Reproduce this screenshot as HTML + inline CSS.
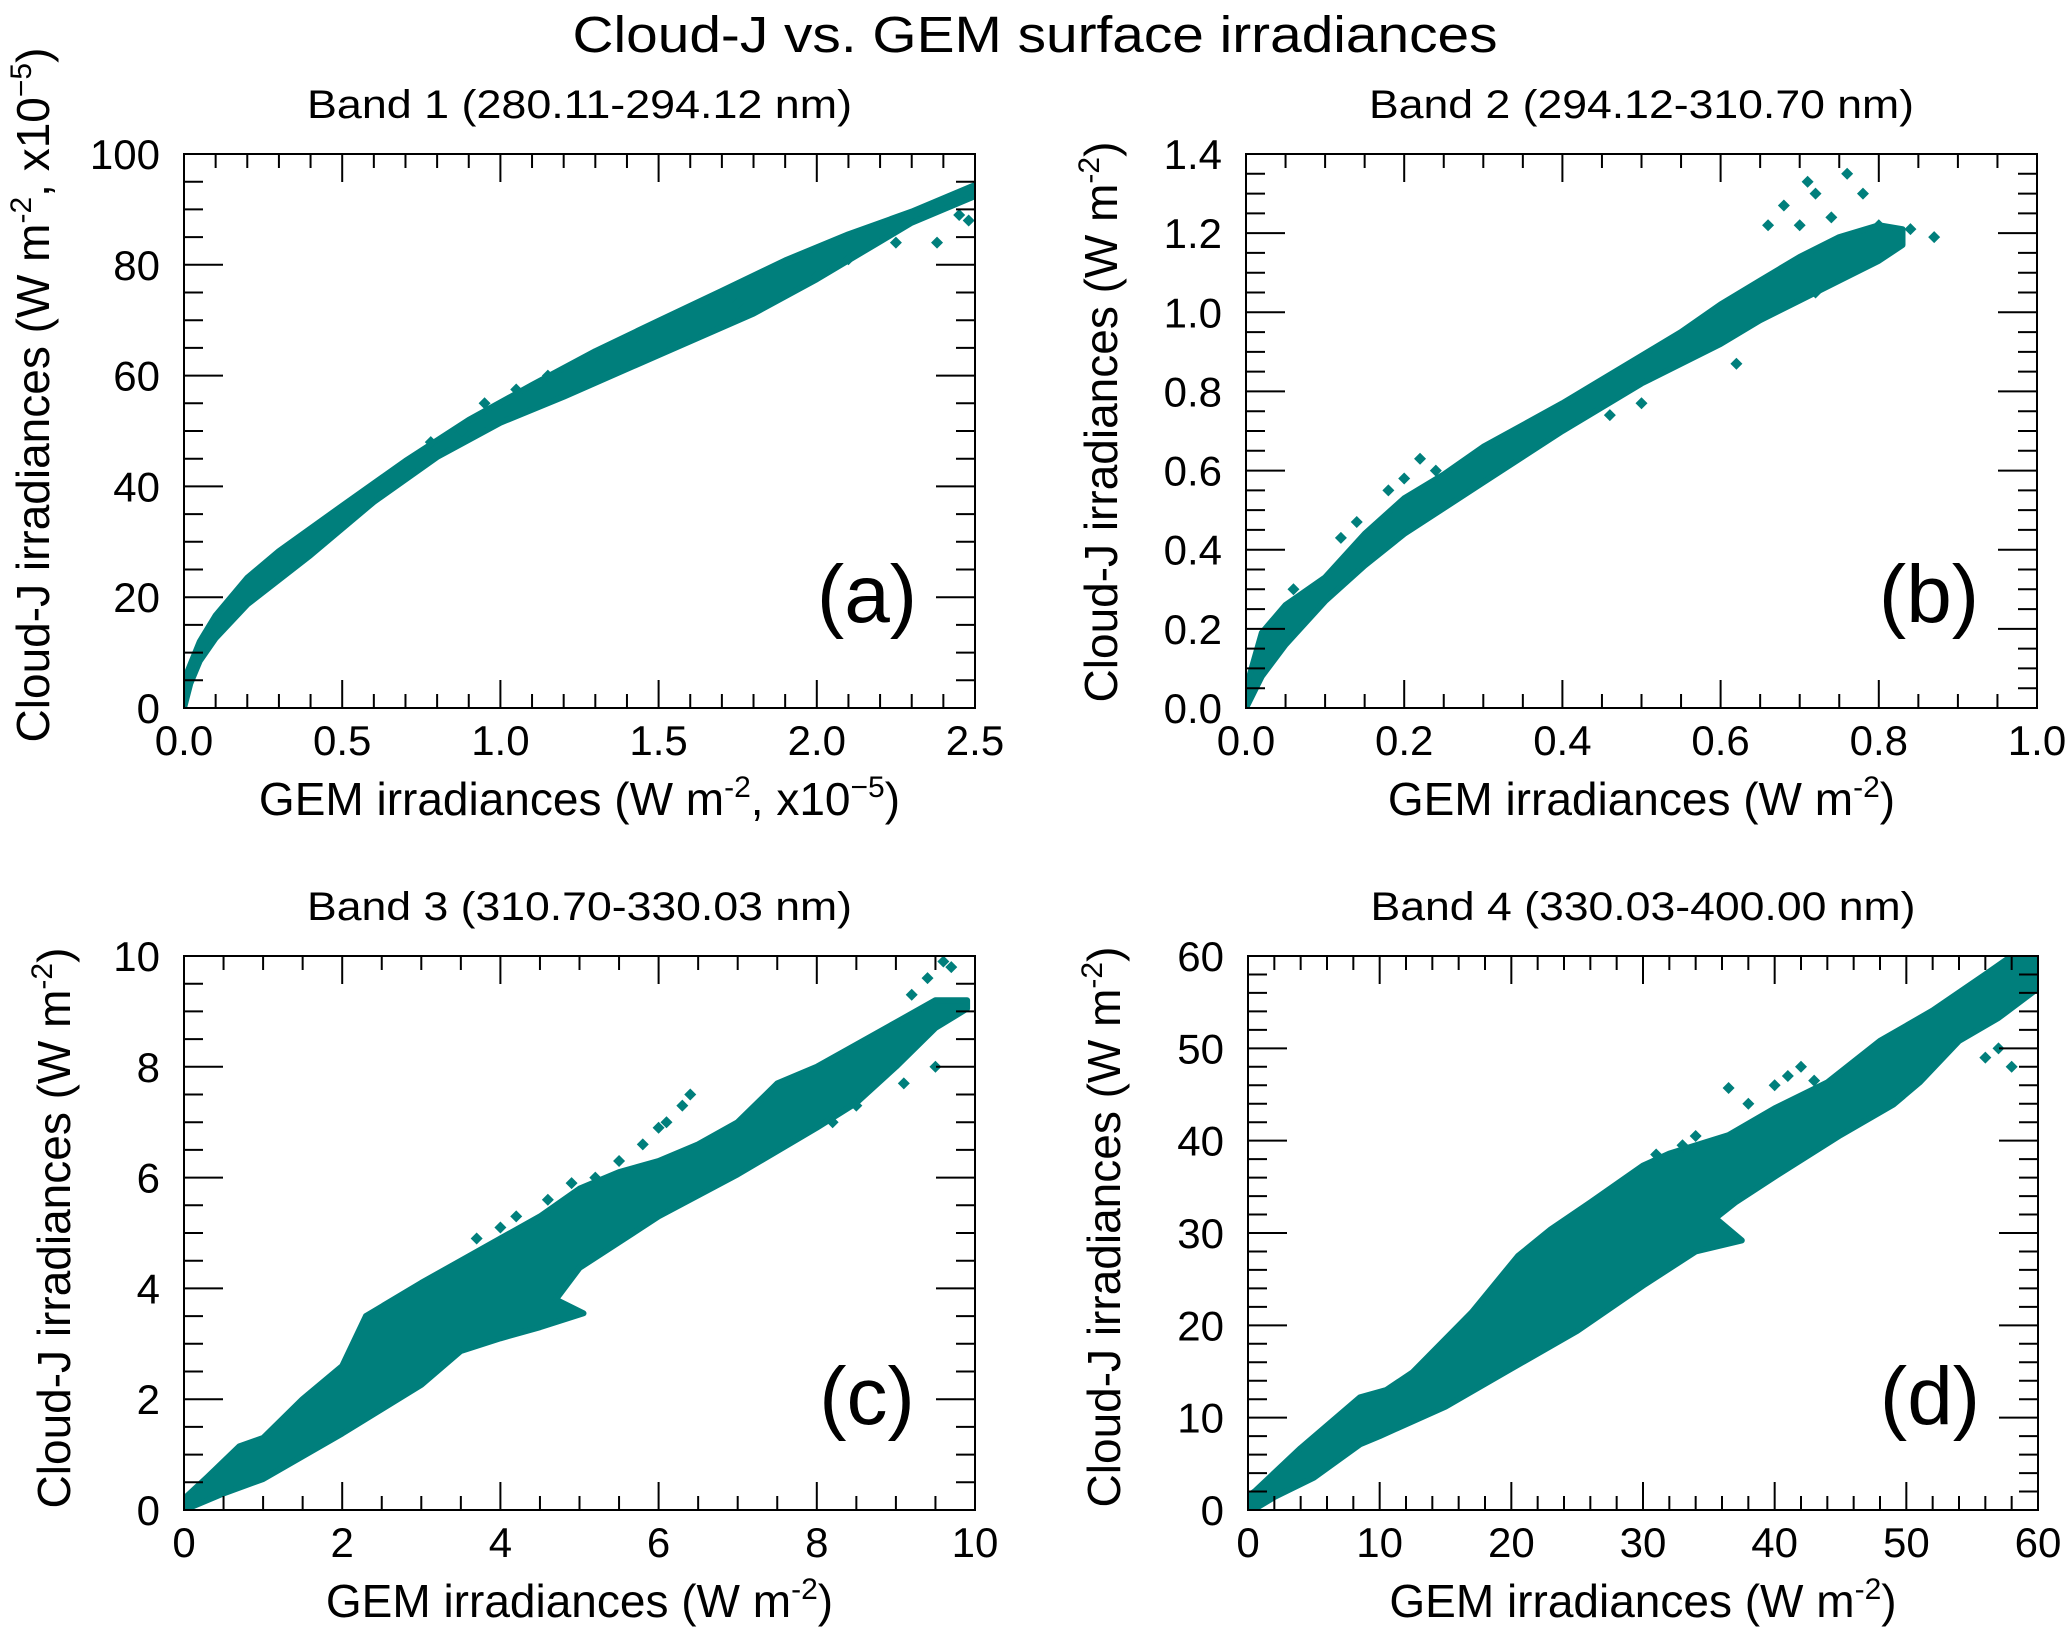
<!DOCTYPE html>
<html><head><meta charset="utf-8"><style>
html,body{margin:0;padding:0;background:#fff;}
svg{display:block;font-family:"Liberation Sans",Arial,sans-serif;}
</style></head><body>
<svg id="fig" width="2067" height="1630" viewBox="0 0 2067 1630" xmlns="http://www.w3.org/2000/svg">
<text x="1035" y="52" font-size="51" text-anchor="middle" textLength="925" lengthAdjust="spacingAndGlyphs">Cloud-J vs. GEM surface irradiances</text>
</svg>
<script>
// ---- Panel (a) data ----
const aUpperX = [0,0.05,0.1,0.2,0.3,0.5,0.7,0.9,1.1,1.3,1.5,1.7,1.9,2.1,2.3,2.5];
const aUpperY = [5,12,16.7,23.5,28.3,36.5,44.6,52,58.3,64.4,69.9,75.3,80.8,85.5,89.6,94.4];
const aLowerX = [2.5,2.3,2.2,2.0,1.8,1.5,1.2,1.0,0.8,0.6,0.4,0.2,0.1,0.05,0.02,0];
const aLowerY = [92.4,87.6,84.2,77.4,71.2,63.7,56.2,51.5,45.3,37.2,27.6,18.7,12.6,8.5,4.4,0];
const aOutX = [0.78,0.88,0.95,1.05,1.15,1.3,1.42,1.64,1.75,1.9,2.0,2.1,2.25,2.38,2.45,2.48];
const aOutY = [48,50,55,57.5,60,63.5,66.5,70,73,76,78,81,84,84,89,88];
// ---- Panel (b) data ----
const bUpperX = [0,0.02,0.05,0.1,0.15,0.2,0.25,0.3,0.4,0.5,0.55,0.6,0.65,0.7,0.75,0.8,0.83];
const bUpperY = [0.05,0.19,0.26,0.33,0.44,0.53,0.59,0.66,0.77,0.89,0.95,1.02,1.08,1.14,1.19,1.22,1.21];
const bLowerX = [0.83,0.8,0.75,0.7,0.65,0.6,0.5,0.4,0.3,0.2,0.15,0.1,0.05,0.02,0];
const bLowerY = [1.17,1.13,1.08,1.03,0.98,0.92,0.82,0.70,0.57,0.44,0.36,0.27,0.16,0.08,0];
const bOutX = [0.06,0.12,0.14,0.18,0.2,0.22,0.24,0.66,0.68,0.7,0.72,0.74,0.76,0.78,0.8,0.87,0.72,0.5,0.46,0.62,0.71,0.84];
const bOutY = [0.3,0.43,0.47,0.55,0.58,0.63,0.6,1.22,1.27,1.22,1.3,1.24,1.35,1.3,1.22,1.19,1.05,0.77,0.74,0.87,1.33,1.21];
// ---- Panel (c) data ----
const cUpperX = [0,0.3,0.7,1.0,1.5,2.0,2.3,3.0,3.5,4.0,4.5,5.0,5.5,6.0,6.5,7.0,7.5,8.0,8.5,9.0,9.5,9.9];
const cUpperY = [0.2,0.6,1.15,1.3,2.0,2.6,3.5,4.1,4.5,4.9,5.3,5.8,6.1,6.3,6.6,7.0,7.7,8.0,8.4,8.8,9.2,9.2];
const cLowerX = [9.9,9.5,9.0,8.5,8.0,7.0,6.0,5.0,4.7,5.05,4.5,4.0,3.5,3.0,2.0,1.0,0.5,0];
const cLowerY = [9.05,8.7,8.0,7.35,6.9,6.06,5.3,4.37,3.8,3.55,3.3,3.1,2.87,2.26,1.38,0.56,0.3,0];
const cOutX = [3.7,4.0,4.2,4.6,4.9,5.2,5.5,5.8,6.0,6.1,6.3,6.4,9.2,9.4,9.6,9.7,9.5,9.1,8.2,8.5];
const cOutY = [4.9,5.1,5.3,5.6,5.9,6.0,6.3,6.6,6.9,7.0,7.3,7.5,9.3,9.6,9.9,9.8,8.0,7.7,7.0,7.3];
// ---- Panel (d) data ----
const dUpperX = [0,0.5,4,8.5,10.5,12.5,17,20.5,23,26,30,32,36.5,40,44,48,52,56,58,60];
const dUpperY = [1.5,2,6.7,12.2,13,14.9,21.4,27.5,30.4,33.3,37.3,38.6,40.6,43.5,46.3,50.8,54.1,58,60,60];
const dLowerX = [60,57,54,51,49,45,40,37,35.5,37.5,34,30,25,20,15,10,8.5,5,2,0.6,0];
const dLowerY = [56.5,53.3,50.8,46.3,43.9,40.6,36.1,33.3,31.6,29.2,28,24.3,19.4,15.3,11.2,8,7.1,3.5,1.4,0.2,0];
const dOutX = [31,33,34,36.5,38,40,41,42,43,56,57,58];
const dOutY = [38.5,39.5,40.5,45.7,44,46,47,48,46.5,49,50,48];
// ---- tick labels ----
const aXTicks = ["0.0","0.5","1.0","1.5","2.0","2.5"];
const aYTicks = ["0","20","40","60","80","100"];
const bXTicks = ["0.0","0.2","0.4","0.6","0.8","1.0"];
const bYTicks = ["0.0","0.2","0.4","0.6","0.8","1.0","1.2","1.4"];
const cXTicks = ["0","2","4","6","8","10"];
const cYTicks = ["0","2","4","6","8","10"];
const dXTicks = ["0","10","20","30","40","50","60"];
const dYTicks = ["0","10","20","30","40","50","60"];

const NS = "http://www.w3.org/2000/svg";
const svg = document.getElementById('fig');
const TEAL = "#007f7c";
function mk(tag, attrs, parent){const e=document.createElementNS(NS,tag);for(const k in attrs)e.setAttribute(k,attrs[k]);(parent||svg).appendChild(e);return e;}

function panel(p){
  const g = mk('g',{});
  
  
  const sx = v => p.x0 + (v - p.xmin)/(p.xmax - p.xmin)*(p.x1 - p.x0);
  const sy = v => p.y1 - (v - p.ymin)/(p.ymax - p.ymin)*(p.y1 - p.y0);
  const cp = mk('clipPath',{id:'clip-'+p.name},g);
  mk('rect',{x:p.x0,y:p.y0,width:p.x1-p.x0,height:p.y1-p.y0},cp);
  const data = mk('g',{'clip-path':'url(#clip-'+p.name+')'},g);
  let pts = [];
  p.ux.forEach((x,i)=>pts.push(sx(x).toFixed(1)+','+sy(p.uy[i]).toFixed(1)));
  p.lx.forEach((x,i)=>pts.push(sx(x).toFixed(1)+','+sy(p.ly[i]).toFixed(1)));
  const poly = mk('polygon',{points:pts.join(' '),fill:TEAL,stroke:TEAL,'stroke-width':6,'stroke-linejoin':'round'},data);
  
  
  p.ox.forEach((x,i)=>{
    const cx=sx(x), cy=sy(p.oy[i]), r=6;
    const d = mk('polygon',{points:`${cx},${cy-r} ${cx+r},${cy} ${cx},${cy+r} ${cx-r},${cy}`,fill:TEAL},data);
    
    
  });
  const fr = mk('rect',{x:p.x0,y:p.y0,width:p.x1-p.x0,height:p.y1-p.y0,fill:'none',stroke:'#000','stroke-width':2},g);
  
  
  const tk = mk('g',{stroke:'#000','stroke-width':2},g);
  
  
  const nx = p.xt.length-1, ny = p.yt.length-1;
  for(let i=0;i<=nx*p.xsub;i++){
    const v = p.xmin + i*(p.xmax-p.xmin)/(nx*p.xsub), X=sx(v), L = (i%p.xsub===0)?28:14;
    mk('line',{x1:X,x2:X,y1:p.y1,y2:p.y1-L},tk);
    mk('line',{x1:X,x2:X,y1:p.y0,y2:p.y0+L},tk);
  }
  for(let i=0;i<=ny*p.ysub;i++){
    const v = p.ymin + i*(p.ymax-p.ymin)/(ny*p.ysub), Y=sy(v), L = (i%p.ysub===0)?39:19;
    mk('line',{x1:p.x0,x2:p.x0+L,y1:Y,y2:Y},tk);
    mk('line',{x1:p.x1,x2:p.x1-L,y1:Y,y2:Y},tk);
  }
  p.xt.forEach((t,i)=>{
    const v = p.xmin + i*(p.xmax-p.xmin)/nx;
    const e = mk('text',{x:sx(v),y:p.y1+47,'font-size':42,'text-anchor':'middle'},g);
    e.textContent=t;
    
    
  });
  p.yt.forEach((t,i)=>{
    const v = p.ymin + i*(p.ymax-p.ymin)/ny;
    const e = mk('text',{x:p.x0-24,y:sy(v)+15,'font-size':42,'text-anchor':'end'},g);
    e.textContent=t;
    
    
  });
  const ti = mk('text',{x:(p.x0+p.x1)/2,y:p.y0-36,'font-size':40,'text-anchor':'middle',textLength:545,lengthAdjust:'spacingAndGlyphs'},g);
  ti.textContent = p.title;
  
  
  const lb = mk('text',{x:p.x1-108,y:p.y1-86,'font-size':82,'text-anchor':'middle'},g);
  lb.textContent = p.letter;
  
  
  const xl = mk('text',{x:(p.x0+p.x1)/2,y:p.y1+107,'font-size':46,'text-anchor':'middle'},g);
  xl.innerHTML = p.xlab;
  
  
  const yl = mk('text',{x:0,y:0,'font-size':46,'text-anchor':'middle',transform:`translate(${p.ylx},${p.yly}) rotate(-90)`},g);
  yl.innerHTML = p.ylab;
  
  
}
const S2 = '<tspan dy="-18" font-size="30">-2</tspan><tspan dy="18">)</tspan>';
const S25 = '<tspan dy="-18" font-size="30">-2</tspan><tspan dy="18">, x10</tspan><tspan dy="-18" font-size="30">−5</tspan><tspan dy="18">)</tspan>';
panel({name:'panel-a',x0:184,x1:975,y0:154,y1:708,xmin:0,xmax:2.5,ymin:0,ymax:100,xsub:5,ysub:4,
  xt:aXTicks,yt:aYTicks,ux:aUpperX,uy:aUpperY,lx:aLowerX,ly:aLowerY,ox:aOutX,oy:aOutY,
  title:'Band 1 (280.11-294.12 nm)',letter:'(a)',xlab:'GEM irradiances (W m'+S25,ylab:'Cloud-J irradiances (W m'+S25,ylx:49,yly:395});
panel({name:'panel-b',x0:1246,x1:2037,y0:154,y1:708,xmin:0,xmax:1,ymin:0,ymax:1.4,xsub:4,ysub:4,
  xt:bXTicks,yt:bYTicks,ux:bUpperX,uy:bUpperY,lx:bLowerX,ly:bLowerY,ox:bOutX,oy:bOutY,
  title:'Band 2 (294.12-310.70 nm)',letter:'(b)',xlab:'GEM irradiances (W m'+S2,ylab:'Cloud-J irradiances (W m'+S2,ylx:1117,yly:422});
panel({name:'panel-c',x0:184,x1:975,y0:956,y1:1510,xmin:0,xmax:10,ymin:0,ymax:10,xsub:4,ysub:4,
  xt:cXTicks,yt:cYTicks,ux:cUpperX,uy:cUpperY,lx:cLowerX,ly:cLowerY,ox:cOutX,oy:cOutY,
  title:'Band 3 (310.70-330.03 nm)',letter:'(c)',xlab:'GEM irradiances (W m'+S2,ylab:'Cloud-J irradiances (W m'+S2,ylx:70,yly:1228});
panel({name:'panel-d',x0:1248,x1:2038,y0:956,y1:1510,xmin:0,xmax:60,ymin:0,ymax:60,xsub:5,ysub:5,
  xt:dXTicks,yt:dYTicks,ux:dUpperX,uy:dUpperY,lx:dLowerX,ly:dLowerY,ox:dOutX,oy:dOutY,
  title:'Band 4 (330.03-400.00 nm)',letter:'(d)',xlab:'GEM irradiances (W m'+S2,ylab:'Cloud-J irradiances (W m'+S2,ylx:1120,yly:1227});
</script>
</body></html>
